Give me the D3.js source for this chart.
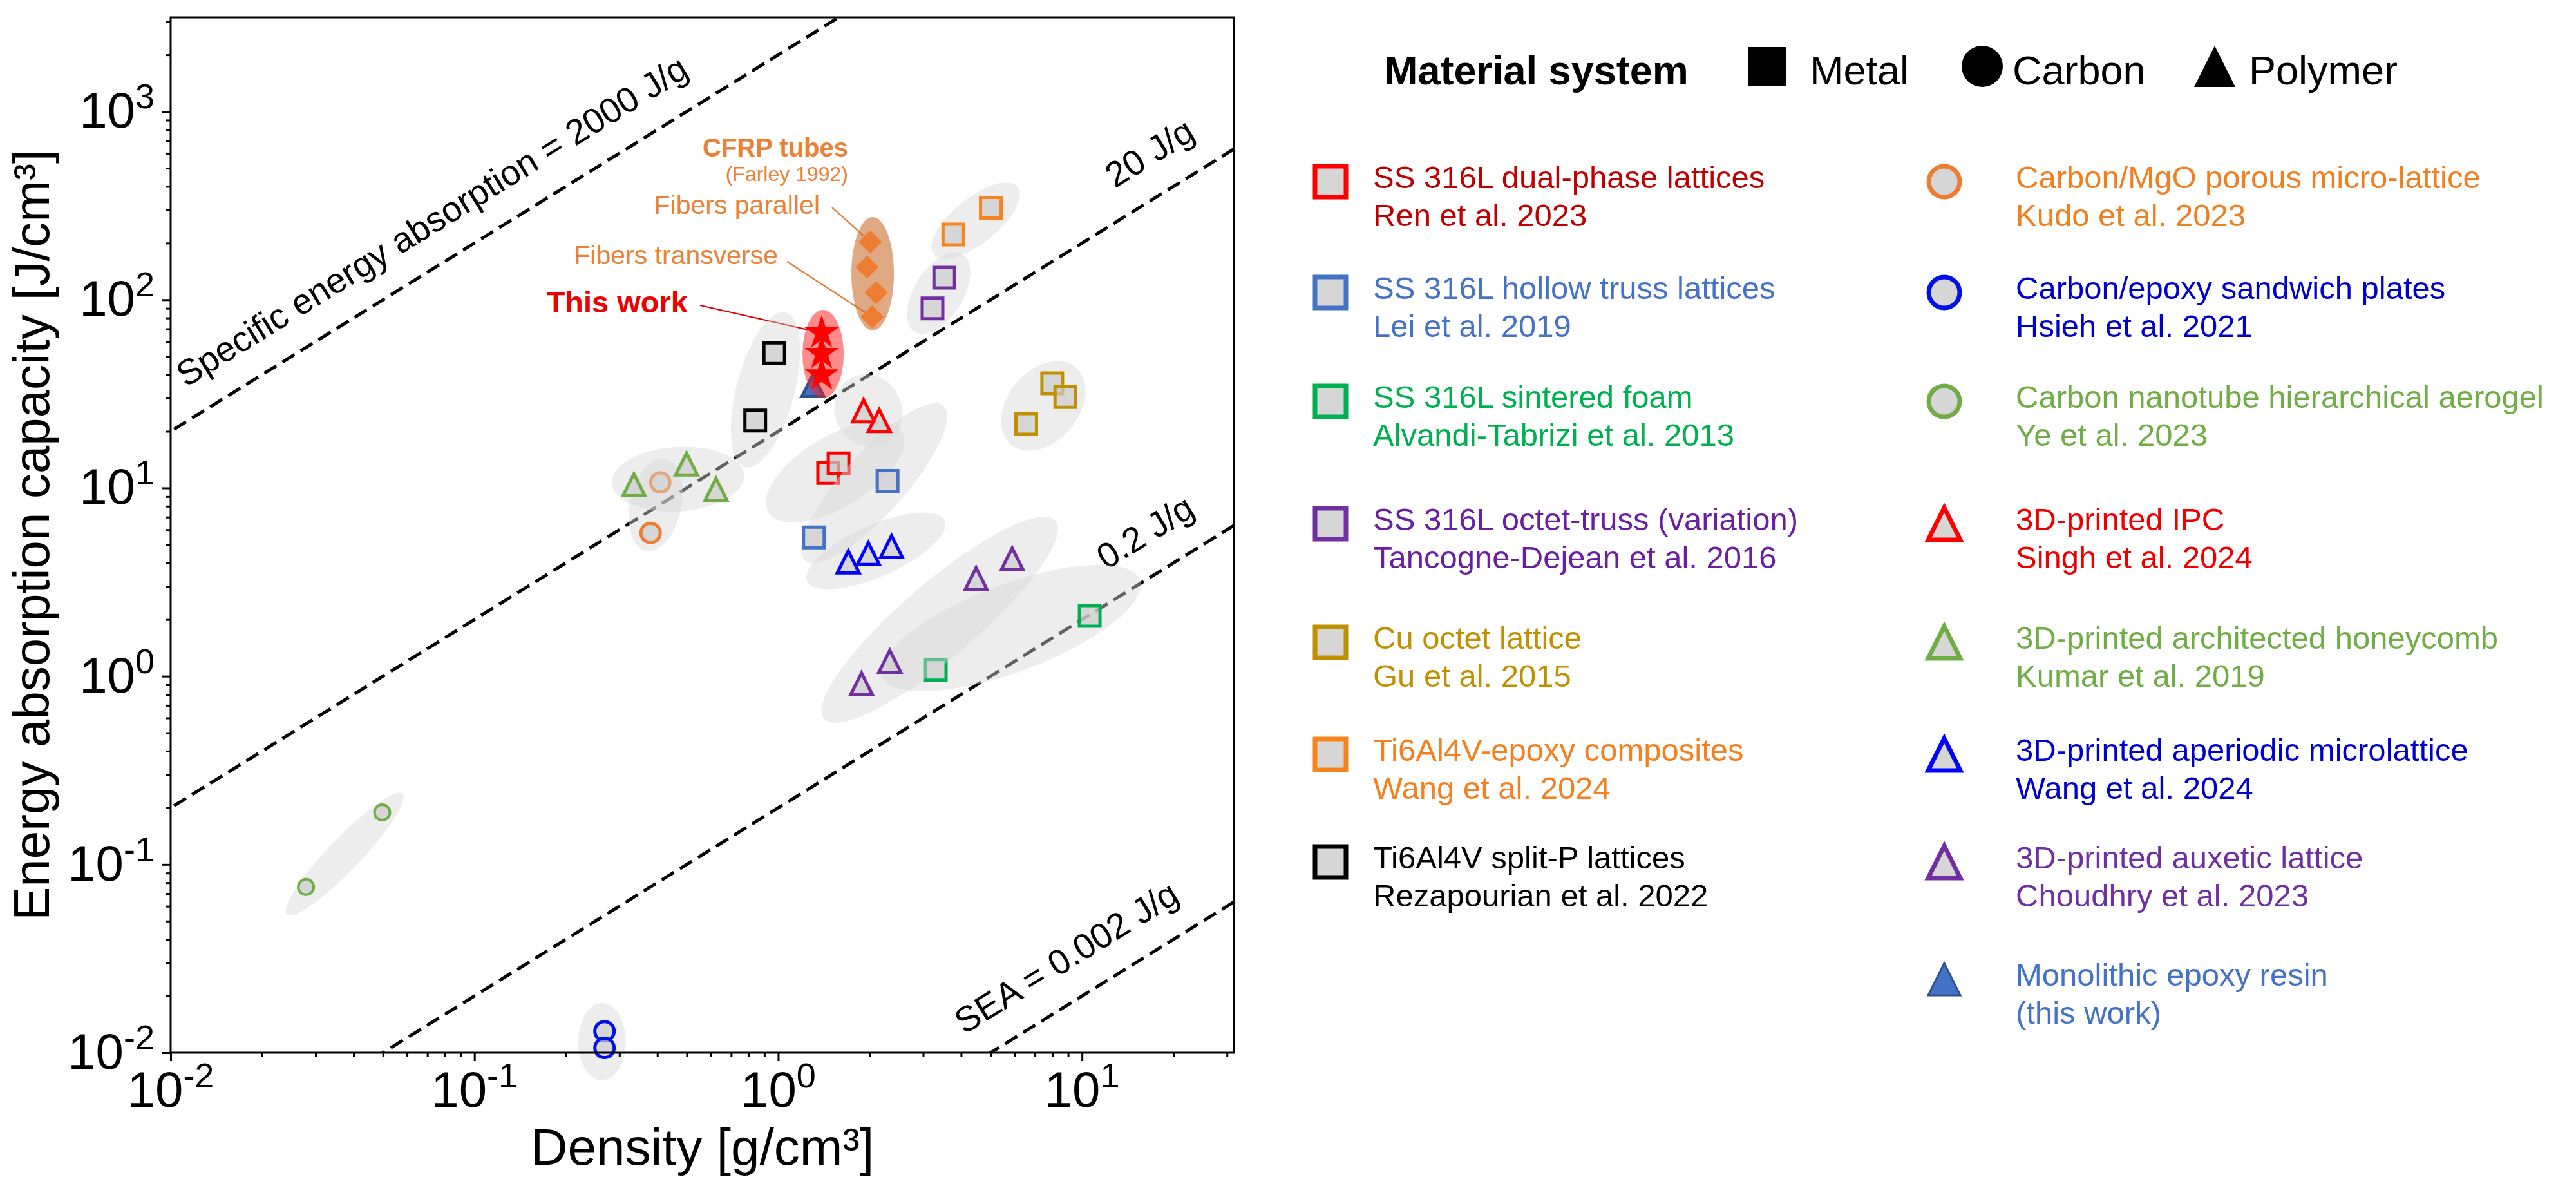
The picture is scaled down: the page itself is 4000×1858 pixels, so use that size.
<!DOCTYPE html>
<html>
<head>
<meta charset="utf-8">
<script src="https://cdn.jsdelivr.net/npm/d3@7"></script>
<style>
  body { margin: 0; background: #fff; }
  svg { font-family: "Liberation Sans", Arial, Helvetica, sans-serif; }
</style>
</head>
<body>
<svg id="chart" width="4000" height="1858"></svg>
<script>

// Series values: [density g/cm3, energy absorption J/cm3].
const ren = [[1.46, 12.0], [1.58, 13.5]];
const lei = [[2.29, 10.9], [1.31, 5.46]];
const alvandi = [[3.30, 1.08], [10.6, 2.09]];
const tancogne = [[3.52, 131], [3.22, 90]];
const gu = [[7.98, 36], [8.81, 30.4], [6.55, 21.9]];
const wangTi = [[5.01, 308], [3.77, 222]];
const rezapourian = [[0.97, 52], [0.84, 22.8]];
const kudo = [[0.409, 10.7], [0.38, 5.77]];
const hsieh = [[0.268, 0.0130], [0.268, 0.0106]];
const ye = [[0.0279, 0.0759], [0.0497, 0.189]];
const singh = [[1.91, 25.7], [2.15, 22.8]];
const kumar = [[0.335, 10.4], [0.499, 13.4], [0.624, 9.84]];
const wangAp = [[1.70, 4.05], [1.98, 4.48], [2.36, 4.88]];
const choudhry = [[1.88, 0.91], [2.33, 1.20], [4.48, 3.30], [5.89, 4.2]];
const epoxy = [[1.30, 35]];
const thisWork = [[1.39, 66.7], [1.39, 51.8], [1.39, 39.9]];
const cfrp = [[2.01, 203], [1.96, 149], [2.10, 109], [2.04, 81]];

// Group envelopes: ends of the long axis, in data units.
const renHull = [[0.927, 7.44], [2.55, 19.9]];
const leiHull = [[1.225, 4.12], [3.50, 27.3]];
const alvandiHull = [[2.20, 1.0], [15.5, 3.25]];
const tancogneHull = [[2.81, 67.6], [4.05, 174]];
const guHull = [[5.84, 17.0], [9.52, 43.8]];
const wangTiHull = [[3.25, 174], [6.13, 398]];
const rezHull = [[0.778, 12.9], [1.059, 85.6]];
const kudoHull = [[0.367, 4.63], [0.425, 14.3]];
const hsiehHull = [[0.263, 0.00713], [0.263, 0.01836]];
const yeHull = [[0.0241, 0.0541], [0.058, 0.238]];
const singhHull = [[1.767, 38.9], [2.22, 17.0]];
const kumarHull = [[0.283, 10.6], [0.771, 11.7]];
const wangApHull = [[1.244, 3.20], [3.53, 6.71]];
const choudhryHull = [[1.413, 0.593], [8.18, 6.71]];
const thisWorkHull = [[1.405, 30.0], [1.405, 88.3]];
const cfrpHull = [[2.046, 68.7], [2.046, 275]];

// Reference lines (specific energy absorption, J/g).
const seaLevels = [2000, 20, 0.2, 0.002];
const seaLabels = ['Specific energy absorption = 2000 J/g', '20 J/g', '0.2 J/g', 'SEA = 0.002 J/g'];
const seaLabelAt = [0.0126, 14.4, 13.5, 4.60];

// Ticks.
const xMajor = [0.01, 0.1, 1, 10];
const yMajor = [0.01, 0.1, 1, 10, 100, 1000];
const tickExponents = ['-2', '-1', '0', '1', '2', '3'];

// Legend material classes.
const materials = ['Metal', 'Carbon', 'Polymer'];

// Series table (style + legend).
const series = [
  { data: ren, hull: renHull, hr: 55, shape: 'square', stroke: '#ff0000', text: '#c00000', col: 0, row: 0,
    label: ['SS 316L dual-phase lattices', 'Ren et al. 2023'] },
  { data: lei, hull: leiHull, hr: 48, shape: 'square', stroke: '#4472c4', text: '#4472c4', col: 0, row: 1,
    label: ['SS 316L hollow truss lattices', 'Lei et al. 2019'] },
  { data: alvandi, hull: alvandiHull, hr: 68, shape: 'square', stroke: '#00b050', text: '#00b050', col: 0, row: 2,
    label: ['SS 316L sintered foam', 'Alvandi-Tabrizi et al. 2013'] },
  { data: tancogne, hull: tancogneHull, hr: 38, shape: 'square', stroke: '#7030a0', text: '#6a1fa0', col: 0, row: 3,
    label: ['SS 316L octet-truss (variation)', 'Tancogne-Dejean et al. 2016'] },
  { data: gu, hull: guHull, hr: 55, shape: 'square', stroke: '#bf9000', text: '#bf9000', col: 0, row: 4,
    label: ['Cu octet lattice', 'Gu et al. 2015'] },
  { data: wangTi, hull: wangTiHull, hr: 35, shape: 'square', stroke: '#f7851f', text: '#f4801f', col: 0, row: 5,
    label: ['Ti6Al4V-epoxy composites', 'Wang et al. 2024'] },
  { data: rezapourian, hull: rezHull, hr: 45, shape: 'square', stroke: '#000000', text: '#000000', col: 0, row: 6,
    label: ['Ti6Al4V split-P lattices', 'Rezapourian et al. 2022'] },
  { data: kudo, hull: kudoHull, hr: 40, shape: 'circle', stroke: '#ed7d31', text: '#f07f20', col: 1, row: 0,
    label: ['Carbon/MgO porous micro-lattice', 'Kudo et al. 2023'] },
  { data: hsieh, hull: hsiehHull, hr: 37, shape: 'circle', stroke: '#0010e8', text: '#0000cc', col: 1, row: 1,
    label: ['Carbon/epoxy sandwich plates', 'Hsieh et al. 2021'] },
  { data: ye, hull: yeHull, hr: 25, shape: 'circle', size: 24, width: 4, stroke: '#70ad47', text: '#70ad47', col: 1, row: 2,
    label: ['Carbon nanotube hierarchical aerogel', 'Ye et al. 2023'] },
  { data: singh, hull: singhHull, hr: 52, shape: 'triangle', stroke: '#ff0000', text: '#ee0000', col: 1, row: 3,
    label: ['3D-printed IPC', 'Singh et al. 2024'] },
  { data: kumar, hull: kumarHull, hr: 50, shape: 'triangle', stroke: '#70ad47', text: '#70ad47', col: 1, row: 4,
    label: ['3D-printed architected honeycomb', 'Kumar et al. 2019'] },
  { data: wangAp, hull: wangApHull, hr: 40, shape: 'triangle', stroke: '#0000ff', text: '#0000cc', col: 1, row: 5,
    label: ['3D-printed aperiodic microlattice', 'Wang et al. 2024'] },
  { data: choudhry, hull: choudhryHull, hr: 58, shape: 'triangle', stroke: '#7030a0', text: '#7030a0', col: 1, row: 6,
    label: ['3D-printed auxetic lattice', 'Choudhry et al. 2023'] },
  { data: epoxy, shape: 'triangle', stroke: '#2f528f', fill: '#4472c4', text: '#4472c4', col: 1, row: 7,
    label: ['Monolithic epoxy resin', '(this work)'] }
];

// Layout.
const plot = { left: 265, right: 1916, top: 27, bottom: 1634 };
const legendRows = [292, 464, 633, 823, 1007, 1181, 1348, 1530];
const legendCols = [{ marker: 2066, text: 2132 }, { marker: 3019, text: 3130 }];
const orange = '#e98236';

const svg = d3.select('#chart');

// Scales.
const x = d3.scaleLog().domain([0.01, Math.pow(10, 1.5)]).range([plot.left, plot.right]);
const y = d3.scaleLog().domain([0.01, Math.pow(10, 3.5)]).range([plot.bottom, plot.top]);

/*
 * Marker outline centred on 0,0.
 */
function shapePath(shape, s) {
  const h = s / 2;
  if (shape === 'square') return `M${-h},${-h}H${h}V${h}H${-h}Z`;
  if (shape === 'triangle') return `M0,${-h}L${h},${h}L${-h},${h}Z`;
  if (shape === 'diamond') return `M0,${-h}L${h},0L0,${h}L${-h},0Z`;
  if (shape === 'circle') return `M${h},0A${h},${h} 0 1,1 ${-h},0A${h},${h} 0 1,1 ${h},0Z`;
  if (shape === 'star') {
    const pts = d3.range(10).map(function(i) {
      const r = i % 2 ? h * 0.382 : h;
      const a = -Math.PI / 2 + i * Math.PI / 5;
      return [r * Math.cos(a), r * Math.sin(a)];
    });
    return 'M' + pts.join('L') + 'Z';
  }
}

function defaultSize(shape) {
  return { square: 32, triangle: 34, circle: 30, diamond: 36, star: 56 }[shape];
}

/*
 * Rotated ellipse spanning two data points.
 */
function drawHull(g, hull, r, fill, opacity) {
  const x1 = x(hull[0][0]), y1 = y(hull[0][1]);
  const x2 = x(hull[1][0]), y2 = y(hull[1][1]);
  const cx = (x1 + x2) / 2, cy = (y1 + y2) / 2;
  const rx = Math.hypot(x2 - x1, y2 - y1) / 2;
  const a = Math.atan2(y2 - y1, x2 - x1) * 180 / Math.PI;
  g.append('ellipse')
    .attr('cx', cx).attr('cy', cy)
    .attr('rx', rx).attr('ry', r)
    .attr('transform', `rotate(${a},${cx},${cy})`)
    .attr('fill', fill)
    .attr('fill-opacity', opacity);
}

function drawMarkers(g, s) {
  const size = s.size || defaultSize(s.shape);
  g.selectAll(null)
    .data(s.data)
    .enter().append('path')
    .attr('d', shapePath(s.shape, size))
    .attr('transform', d => `translate(${x(d[0])},${y(d[1])})`)
    .attr('fill', s.fill || '#cccccc')
    .attr('fill-opacity', s.fill ? 1 : 0.7)
    .attr('stroke', s.stroke)
    .attr('stroke-width', s.width || 5)
    .attr('stroke-linejoin', 'miter');
}

// Clip.
svg.append('clipPath').attr('id', 'plot-clip')
  .append('rect')
  .attr('x', plot.left).attr('y', plot.top)
  .attr('width', plot.right - plot.left).attr('height', plot.bottom - plot.top);

// SEA reference lines.
const lineAngle = Math.atan2(y(10) - y(1), x(10) - x(1)) * 180 / Math.PI;
const refs = svg.append('g');
const line = d3.line().x(d => x(d[0])).y(d => y(d[1]));

seaLevels.forEach(function(s, i) {
  refs.append('path')
    .attr('d', line([[1e-3, s * 1e-3], [1e3, s * 1e3]]))
    .attr('clip-path', 'url(#plot-clip)')
    .attr('fill', 'none')
    .attr('stroke', '#000')
    .attr('stroke-width', 5)
    .attr('stroke-dasharray', '22,11');

  const px = x(seaLabelAt[i]), py = y(s * seaLabelAt[i]);
  refs.append('text')
    .attr('transform', `translate(${px},${py}) rotate(${lineAngle})`)
    .attr('y', -45)
    .attr('font-size', 55)
    .attr('fill', '#000')
    .text(seaLabels[i]);
});

// Leader lines.
const leaders = [
  { from: [1292, 322], to: cfrp[0], color: '#e07b39' },
  { from: [1222, 406], to: cfrp[3], color: '#e07b39' },
  { from: [1087, 474], to: thisWork[0], color: '#e00000' }
];
svg.append('g').selectAll('line')
  .data(leaders)
  .enter().append('line')
  .attr('x1', d => d.from[0]).attr('y1', d => d.from[1])
  .attr('x2', d => x(d.to[0])).attr('y2', d => y(d.to[1]))
  .attr('stroke', d => d.color)
  .attr('stroke-width', 2.2);

// Groups: envelope then markers.
const marks = svg.append('g');
series.forEach(function(s) {
  const g = marks.append('g');
  if (s.hull) drawHull(g, s.hull, s.hr, '#d8d8d8', 0.45);
  drawMarkers(g, s);
});

// This work + CFRP tubes.
const hi = svg.append('g');
drawHull(hi, thisWorkHull, 32, '#ff1a1a', 0.5);
drawMarkers(hi, { data: thisWork, shape: 'star', stroke: 'none', fill: '#ff0000' });
drawHull(hi, cfrpHull, 33, '#c86f30', 0.6);
drawMarkers(hi, { data: cfrp, shape: 'diamond', stroke: 'none', fill: '#ed7d31' });

// Annotation text.
const notes = [
  { t: 'CFRP tubes', x: 1317, y: 243, size: 40, bold: true, color: orange },
  { t: '(Farley 1992)', x: 1317, y: 281, size: 32, color: orange },
  { t: 'Fibers parallel', x: 1273, y: 332, size: 41, color: orange },
  { t: 'Fibers transverse', x: 1208, y: 410, size: 41, color: orange },
  { t: 'This work', x: 1068, y: 485, size: 47, bold: true, color: '#ee0000' }
];
svg.append('g').selectAll('text')
  .data(notes)
  .enter().append('text')
  .attr('x', d => d.x).attr('y', d => d.y)
  .attr('text-anchor', 'end')
  .attr('font-size', d => d.size)
  .attr('font-weight', d => d.bold ? 'bold' : 'normal')
  .attr('fill', d => d.color)
  .text(d => d.t);

// Axes ticks.
function minors(lo, hi) {
  const out = [];
  for (let e = -2; e <= 3; e++) {
    for (let m = 2; m <= 9; m++) {
      const v = m * Math.pow(10, e);
      if (v > lo && v < hi) out.push(v);
    }
  }
  return out;
}

function styleAxis(g) {
  g.select('.domain').remove();
  g.selectAll('.tick line').attr('stroke', '#000').attr('stroke-width', 3);
}

svg.append('g').attr('transform', `translate(0,${plot.bottom})`)
  .call(d3.axisBottom(x).tickValues(xMajor).tickSize(13).tickFormat(''))
  .call(styleAxis);
svg.append('g').attr('transform', `translate(0,${plot.bottom})`)
  .call(d3.axisBottom(x).tickValues(minors(0.01, 31.7)).tickSize(7).tickFormat(''))
  .call(styleAxis);
svg.append('g').attr('transform', `translate(${plot.left},0)`)
  .call(d3.axisLeft(y).tickValues(yMajor).tickSize(13).tickFormat(''))
  .call(styleAxis);
svg.append('g').attr('transform', `translate(${plot.left},0)`)
  .call(d3.axisLeft(y).tickValues(minors(0.01, 3163)).tickSize(7).tickFormat(''))
  .call(styleAxis);

// Tick labels.
function powerLabel(sel) {
  sel.append('tspan').text('10');
  sel.append('tspan')
    .attr('font-size', 54)
    .attr('dy', -30)
    .text(d => d.exp);
}

svg.append('g').selectAll('text')
  .data(xMajor.map((v, i) => ({ v: v, exp: tickExponents[i] })))
  .enter().append('text')
  .attr('x', d => x(d.v))
  .attr('y', 1718)
  .attr('text-anchor', 'middle')
  .attr('font-size', 78)
  .call(powerLabel);

svg.append('g').selectAll('text')
  .data(yMajor.map((v, i) => ({ v: v, exp: tickExponents[i] })))
  .enter().append('text')
  .attr('x', 240)
  .attr('y', d => y(d.v) + 25)
  .attr('text-anchor', 'end')
  .attr('font-size', 78)
  .call(powerLabel);

// Axis titles.
svg.append('text')
  .attr('x', (plot.left + plot.right) / 2).attr('y', 1808)
  .attr('text-anchor', 'middle')
  .attr('font-size', 80)
  .text('Density [g/cm³]');

svg.append('text')
  .attr('transform', `translate(76,${(plot.top + plot.bottom) / 2}) rotate(-90)`)
  .attr('text-anchor', 'middle')
  .attr('font-size', 78)
  .text('Energy absorption capacity [J/cm³]');

// Frame.
svg.append('rect')
  .attr('x', plot.left).attr('y', plot.top)
  .attr('width', plot.right - plot.left).attr('height', plot.bottom - plot.top)
  .attr('fill', 'none').attr('stroke', '#000').attr('stroke-width', 3);

// Legend header.
const head = svg.append('g');
head.append('text')
  .attr('x', 2149).attr('y', 131)
  .attr('font-size', 63).attr('font-weight', 'bold')
  .text('Material system');
const headShapes = ['square', 'circle', 'triangle'];
const headMarkerX = [2744, 3078, 3439];
const headTextX = [2810, 3125, 3492];
materials.forEach(function(m, i) {
  head.append('path')
    .attr('d', shapePath(headShapes[i], headShapes[i] === 'square' ? 60 : 64))
    .attr('transform', `translate(${headMarkerX[i]},103)`)
    .attr('fill', '#000');
  head.append('text')
    .attr('x', headTextX[i]).attr('y', 131)
    .attr('font-size', 63)
    .text(m);
});

// Legend entries.
const legend = svg.append('g');
series.forEach(function(s) {
  const col = legendCols[s.col];
  const base = legendRows[s.row];
  legend.append('path')
    .attr('d', shapePath(s.shape, s.shape === 'triangle' ? 50 : 48))
    .attr('transform', `translate(${col.marker},${base - 10})`)
    .attr('fill', s.fill || '#d6d6d6')
    .attr('stroke', s.stroke)
    .attr('stroke-width', s.fill ? 3 : 7);
  const t = legend.append('text')
    .attr('x', col.text).attr('y', base)
    .attr('font-size', 49)
    .attr('fill', s.text);
  t.append('tspan').text(s.label[0]);
  t.append('tspan').attr('x', col.text).attr('dy', 59).text(s.label[1]);
});

</script>
</body>
</html>
